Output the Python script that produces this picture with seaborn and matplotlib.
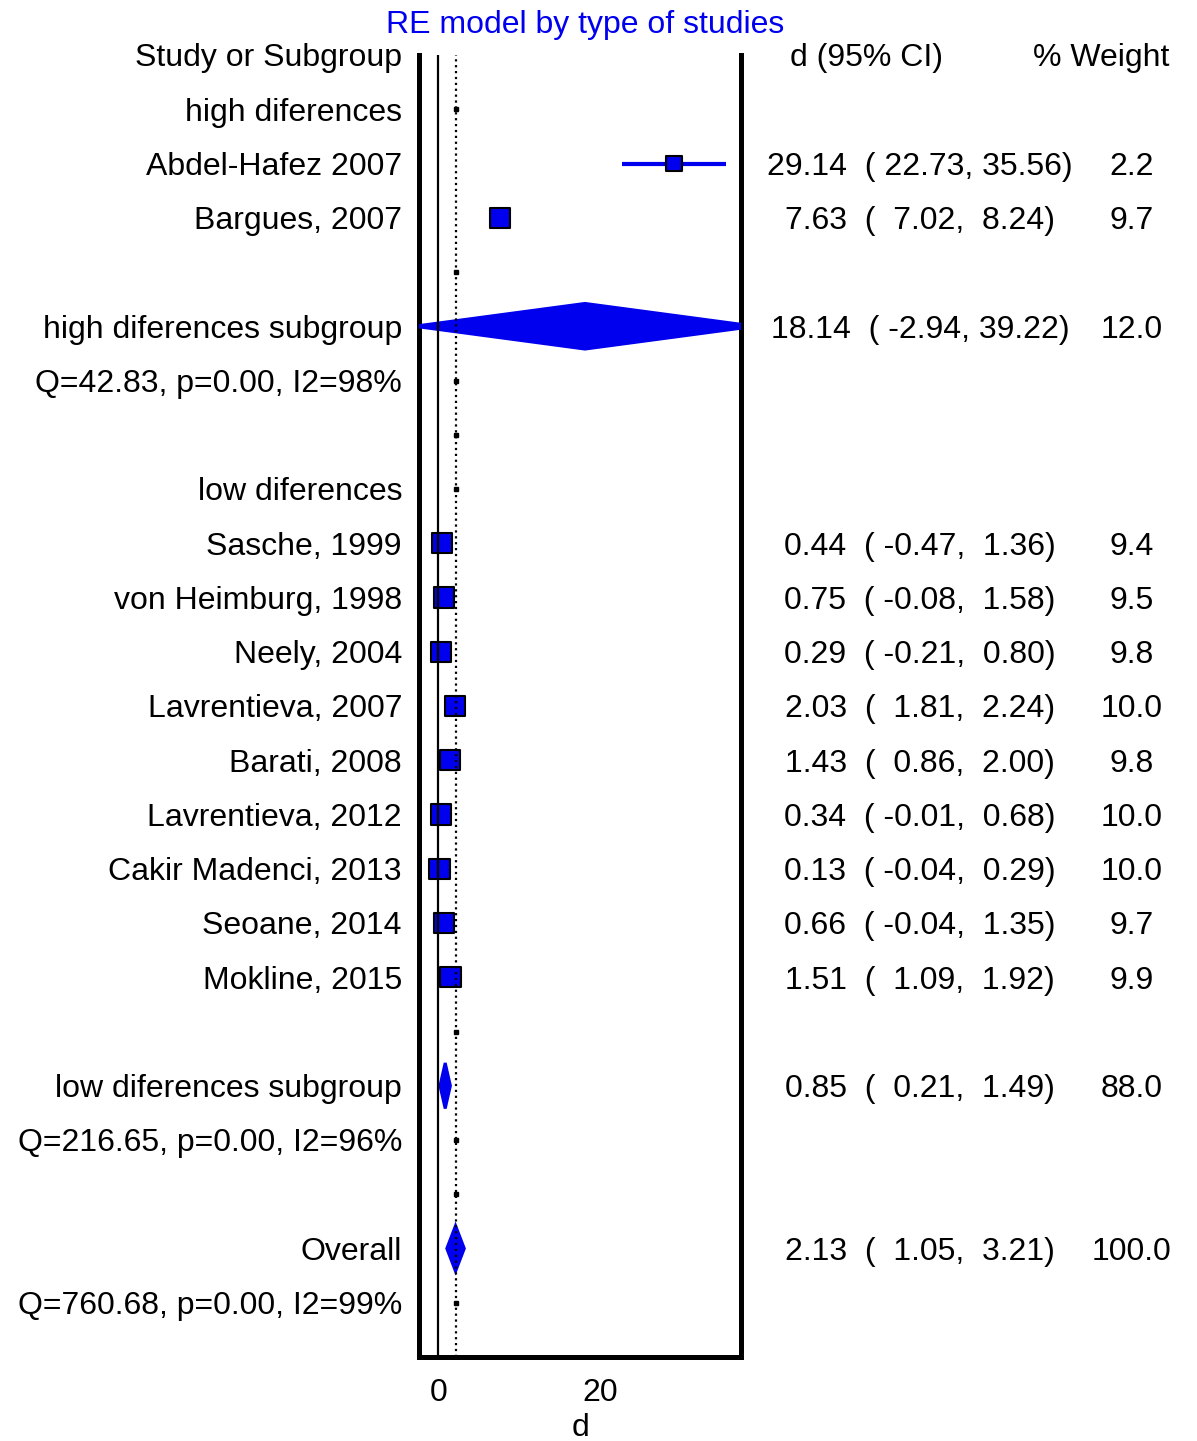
import matplotlib
matplotlib.use("Agg")
import matplotlib.pyplot as plt
import matplotlib.transforms as mtransforms
import pandas as pd
import seaborn as sns

# study level effects
studies = ["Abdel-Hafez 2007", "Bargues, 2007",
           "Sasche, 1999", "von Heimburg, 1998", "Neely, 2004",
           "Lavrentieva, 2007", "Barati, 2008", "Lavrentieva, 2012",
           "Cakir Madenci, 2013", "Seoane, 2014", "Mokline, 2015"]
study_d = [29.14, 7.63, 0.44, 0.75, 0.29, 2.03, 1.43, 0.34, 0.13, 0.66, 1.51]
study_lo = [22.73, 7.02, -0.47, -0.08, -0.21, 1.81, 0.86, -0.01, -0.04, -0.04, 1.09]
study_hi = [35.56, 8.24, 1.36, 1.58, 0.80, 2.24, 2.00, 0.68, 0.29, 1.35, 1.92]
study_w = [2.2, 9.7, 9.4, 9.5, 9.8, 10.0, 9.8, 10.0, 10.0, 9.7, 9.9]

# pooled estimates
pooled = ["high diferences subgroup", "low diferences subgroup", "Overall"]
pooled_d = [18.14, 0.85, 2.13]
pooled_lo = [-2.94, 0.21, 1.05]
pooled_hi = [39.22, 1.49, 3.21]
pooled_w = [12.0, 88.0, 100.0]
het = ["Q=42.83, p=0.00, I2=98%", "Q=216.65, p=0.00, I2=96%",
       "Q=760.68, p=0.00, I2=99%"]
headings = ["high diferences", "low diferences"]

# row order of the forest plot (top to bottom)
rows = ["Study or Subgroup", headings[0], studies[0], studies[1], "",
        pooled[0], het[0], "", headings[1]] + studies[2:] + \
       ["", pooled[1], het[1], "", pooled[2], het[2]]
n_rows = len(rows) + 1

BLUE = "#0000ee"
FS = 23
BASE = 0.21  # text baseline below row centre, in rows

sns.set_theme(style="white")
plt.rcParams["font.family"] = ["Liberation Sans", "DejaVu Sans"]
plt.rcParams["text.color"] = "black"
plt.rcParams["axes.labelcolor"] = "black"
plt.rcParams["xtick.color"] = "black"

fig = plt.figure(figsize=(11.97, 14.41), dpi=100)
ax = fig.add_axes([419 / 1197, 1 - 1357 / 1441, 322.5 / 1197, 1302 / 1441])

df = pd.DataFrame({"d": study_d, "lo": study_lo, "hi": study_hi, "w": study_w,
                   "row": [rows.index(s) for s in studies]})

# confidence intervals
ax.hlines(df["row"], df["lo"], df["hi"], color=BLUE, lw=3, zorder=2)
sns.scatterplot(data=df, x="d", y="row", size="w", sizes=(120, 215),
                size_norm=(2.2, 10.0), marker="s", color=BLUE,
                edgecolor="black", linewidth=1.5, legend=False, ax=ax, zorder=3)

# diamonds for pooled effects
for name, d, lo, hi in zip(pooled, pooled_d, pooled_lo, pooled_hi):
    r = rows.index(name)
    ax.fill([lo, d, hi, d], [r, r - 0.42, r, r + 0.42], facecolor=BLUE,
            edgecolor=BLUE, lw=2.2, zorder=3)

# small markers on non-study rows
blank_rows = [i for i, s in enumerate(rows)
              if i > 0 and s not in studies and s not in pooled]
ax.plot([pooled_d[2]] * len(blank_rows), blank_rows, "s", color="black",
        ms=3, zorder=4)

ax.axvline(0, color="black", lw=1.6, zorder=4)
ax.axvline(pooled_d[2], color="black", lw=1.6, ls=":", zorder=4)

ax.set_xlim(-2.39, 37.5)
ax.set_ylim(n_rows - 1, 0)
ax.set_xticks([0, 20])
ax.set_yticks([])
ax.set_ylabel("")
ax.tick_params(axis="x", direction="out", length=8, width=2, color="#777777",
               labelsize=FS, pad=7, labelcolor="black")
ax.set_xlabel("d", fontsize=FS, labelpad=4)
for side in ["left", "right", "bottom"]:
    ax.spines[side].set_color("black")
    ax.spines[side].set_linewidth(3.6)
ax.spines["top"].set_visible(False)

trans = mtransforms.blended_transform_factory(fig.transFigure, ax.transData)

# left labels
for i, s in enumerate(rows):
    if s:
        ax.text(402 / 1197, i + BASE, s, transform=trans, ha="right",
                va="baseline", fontsize=FS)

# right columns
ax.text(866 / 1197, BASE, "d (95% CI)", transform=trans, ha="center",
        va="baseline", fontsize=FS)
ax.text(1101 / 1197, BASE, "% Weight", transform=trans, ha="center",
        va="baseline", fontsize=FS)
for names, ds, los, his, ws in [(studies, study_d, study_lo, study_hi, study_w),
                                (pooled, pooled_d, pooled_lo, pooled_hi, pooled_w)]:
    for name, d, lo, hi, w in zip(names, ds, los, his, ws):
        r = rows.index(name) + BASE
        ax.text(920 / 1197, r, f"{d:.2f}  ({lo:6.2f},{hi:6.2f})",
                transform=trans, ha="center", va="baseline", fontsize=FS)
        ax.text(1132 / 1197, r, f"{w:.1f}", transform=trans, ha="center",
                va="baseline", fontsize=FS)

fig.text(585 / 1197, 1 - 33 / 1441, "RE model by type of studies",
         color=BLUE, ha="center", va="baseline", fontsize=FS)

fig.savefig("out.png", dpi=100)
